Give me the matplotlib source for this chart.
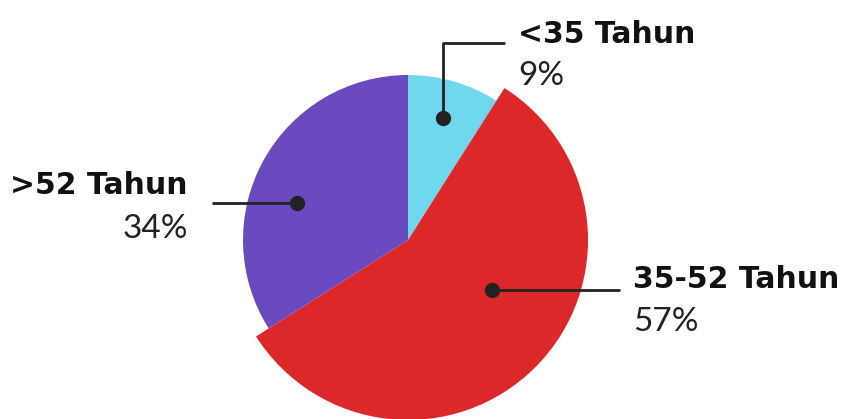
import matplotlib
matplotlib.use("Agg")
import matplotlib.pyplot as plt

categories = ["<35 Tahun", "35-52 Tahun", ">52 Tahun"]
values = [9, 57, 34]
colors = ["#6fd8ee", "#dc2828", "#6a4bbf"]
pct_labels = ["9%", "57%", "34%"]

W, H = 848, 419
fig = plt.figure(figsize=(W / 100, H / 100), dpi=100)
ax = fig.add_axes([0, 0, 1, 1])

cx, cy = 408, H - 240
wedges, _ = ax.pie(values, colors=colors, startangle=90, counterclock=False,
                   radius=165, center=(cx, cy), frame=True,
                   wedgeprops=dict(linewidth=0))
wedges[1].set_radius(180)
ax.set_xlim(0, W)
ax.set_ylim(0, H)
ax.set_aspect("equal")
ax.axis("off")

line_kw = dict(color="#222222", lw=2, solid_capstyle="butt", zorder=5)
dot_kw = dict(marker="o", ms=10, color="#222222", zorder=6)

def Y(y):
    return H - y

# <35
ax.plot([443, 443, 505], [Y(118), Y(43), Y(43)], **line_kw)
ax.plot([443], [Y(118)], **dot_kw)
# >52
ax.plot([297, 212], [Y(203), Y(203)], **line_kw)
ax.plot([297], [Y(203)], **dot_kw)
# 35-52
ax.plot([492, 620], [Y(290), Y(290)], **line_kw)
ax.plot([492], [Y(290)], **dot_kw)

bfam = ["DejaVu Sans"]
pfam = ["Lato", "DejaVu Sans"]
bsize = 21.5
psize = 24
ax.text(518, Y(35), categories[0], fontsize=bsize, fontweight="bold", family=bfam,
        ha="left", va="center", color="#111111")
ax.text(518, Y(76), pct_labels[0], fontsize=psize, fontweight="normal", family=pfam,
        ha="left", va="center", color="#222222")
ax.text(188, Y(186), categories[2], fontsize=bsize, fontweight="bold", family=bfam,
        ha="right", va="center", color="#111111")
ax.text(188, Y(229), pct_labels[2], fontsize=psize, fontweight="normal", family=pfam,
        ha="right", va="center", color="#222222")
ax.text(633, Y(279), categories[1], fontsize=bsize, fontweight="bold", family=bfam,
        ha="left", va="center", color="#111111")
ax.text(633, Y(322), pct_labels[1], fontsize=psize, fontweight="normal", family=pfam,
        ha="left", va="center", color="#222222")

fig.savefig("out.png", dpi=100, facecolor="white")
